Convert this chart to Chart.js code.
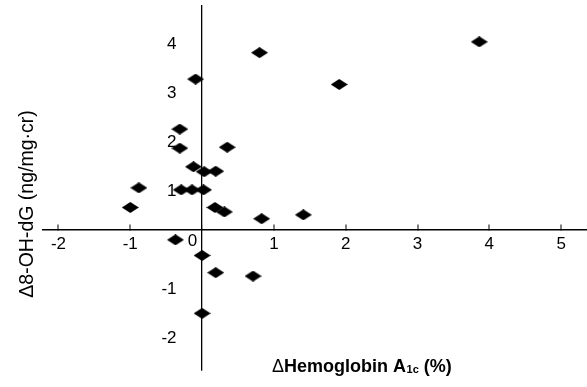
<!DOCTYPE html>
<html>
<head>
<meta charset="utf-8">
<script src="https://cdn.jsdelivr.net/npm/chart.js@4.4.1/dist/chart.umd.min.js"></script>
<style>
  html, body { margin: 0; padding: 0; background: #ffffff; }
  #wrap { width: 587px; height: 387px; position: relative; }
</style>
</head>
<body>
<div id="wrap"><canvas id="chart" width="587" height="387"></canvas></div>
<script>
// ---- data ----
const hba1cChange = [-0.31, -0.31, 0.35, -0.12, 0.03, 0.19, -0.88, -0.29, -0.14, 0.02, -1.00, 0.18, 0.31, 0.83, 1.41, -0.37, 0.00, 0.19, 0.71, 0.00, 0.80, -0.09, 1.91, 3.86];
const ohdgChange  = [2.27, 1.88, 1.90, 1.50, 1.40, 1.41, 1.07, 1.03, 1.03, 1.03, 0.67, 0.67, 0.58, 0.44, 0.52, 0.01, -0.31, -0.66, -0.73, -1.49, 3.83, 3.29, 3.18, 4.05];
const xTickValues = [-2, -1, 0, 1, 2, 3, 4, 5];
const yTickValues = [-2, -1, 0, 1, 2, 3, 4];
const xTitleParts = ['\u0394', 'Hemoglobin A', '1c', ' (%)'];
const yTitle = '\u03948-OH-dG (ng/mg\u00B7cr)';

const FONT = '"Liberation Sans", Arial, Helvetica, sans-serif';
const TICK_SIZE = 17;

// flattened diamond marker
function makeDiamond(w, h) {
  const c = document.createElement('canvas');
  c.width = w; c.height = h;
  const g = c.getContext('2d');
  g.fillStyle = '#000';
  g.beginPath();
  g.moveTo(0, h / 2);
  g.lineTo(w / 2, 0);
  g.lineTo(w, h / 2);
  g.lineTo(w / 2, h);
  g.closePath();
  g.fill();
  return c;
}
const diamond = makeDiamond(17, 11);

const points = hba1cChange.map((x, i) => ({ x: x, y: ohdgChange[i] }));

function zeroPad(s) { s.paddingTop = 0; s.paddingBottom = 0; s.paddingLeft = 0; s.paddingRight = 0; }

const titlePlugin = {
  id: 'titles',
  afterDraw(chart) {
    const ctx = chart.ctx;
    ctx.save();
    ctx.fillStyle = '#000';
    ctx.textBaseline = 'alphabetic';
    ctx.textAlign = 'left';
    let x = 272, y = 372;
    ctx.font = '18px ' + FONT;
    ctx.fillText(xTitleParts[0], x, y); x += ctx.measureText(xTitleParts[0]).width;
    ctx.font = 'bold 18px ' + FONT;
    ctx.fillText(xTitleParts[1], x, y); x += ctx.measureText(xTitleParts[1]).width;
    ctx.font = 'bold 11px ' + FONT;
    ctx.fillText(xTitleParts[2], x + 0.5, y + 1); x += ctx.measureText(xTitleParts[2]).width + 0.5;
    ctx.font = 'bold 18px ' + FONT;
    ctx.fillText(xTitleParts[3], x, y);
    ctx.restore();

    ctx.save();
    ctx.fillStyle = '#000';
    ctx.translate(28, 204);
    ctx.rotate(-Math.PI / 2);
    ctx.textAlign = 'center';
    ctx.textBaseline = 'middle';
    ctx.font = '19.5px ' + FONT;
    ctx.fillText(yTitle, 0, 0);
    ctx.restore();
  }
};

new Chart(document.getElementById('chart'), {
  type: 'scatter',
  data: {
    datasets: [{
      data: points,
      pointStyle: diamond,
      pointRadius: 8,
      pointHoverRadius: 8,
      backgroundColor: '#000',
      borderColor: '#000'
    }]
  },
  options: {
    responsive: false,
    animation: false,
    events: [],
    layout: { autoPadding: false, padding: { left: 43, right: 0, top: 5, bottom: 16.3 } },
    plugins: { legend: { display: false }, tooltip: { enabled: false }, title: { display: false } },
    scales: {
      x: {
        type: 'linear', min: -2.215, max: 5.36,
        position: { y: 0.21 },
        afterFit: (s) => { s.height = 0; zeroPad(s); },
        afterBuildTicks: (s) => { s.ticks = xTickValues.map(v => ({ value: v })); },
        ticks: {
          callback: (v) => (v === 0 ? '' : String(v)),
          font: { family: FONT, size: TICK_SIZE }, color: '#000',
          padding: 10.4, maxRotation: 0, autoSkip: false
        },
        grid: {
          display: true, drawOnChartArea: true, drawTicks: true,
          tickLength: -6, tickWidth: 1, tickColor: '#000',
          color: (c) => (c.tick && c.tick.value === 0 ? '#000' : 'rgba(0,0,0,0)'),
          lineWidth: (c) => (c.tick && c.tick.value === 0 ? 1.3 : 0)
        },
        border: { display: true, color: '#000', width: 1.5 }
      },
      x2: {
        type: 'linear', axis: 'x', min: -2.215, max: 5.36,
        position: { y: 0.21 },
        afterFit: (s) => { s.height = 0; zeroPad(s); },
        afterBuildTicks: (s) => { s.ticks = [{ value: 0 }]; },
        ticks: {
          font: { family: FONT, size: TICK_SIZE }, color: '#000',
          padding: 0.8, labelOffset: -9.5, maxRotation: 0
        },
        grid: { display: false, drawTicks: false },
        border: { display: false }
      },
      y: {
        type: 'linear', min: -2.661, max: 4.802,
        position: { x: -0.355 },
        afterFit: (s) => { s.width = 0; zeroPad(s); },
        afterBuildTicks: (s) => { s.ticks = yTickValues.map(v => ({ value: v })); },
        ticks: {
          callback: (v) => (v === 0 ? '' : String(v)),
          font: { family: FONT, size: TICK_SIZE }, color: '#000', padding: 0
        },
        grid: { display: false, drawTicks: false },
        border: { display: false }
      }
    }
  },
  plugins: [titlePlugin]
});
</script>
</body>
</html>
